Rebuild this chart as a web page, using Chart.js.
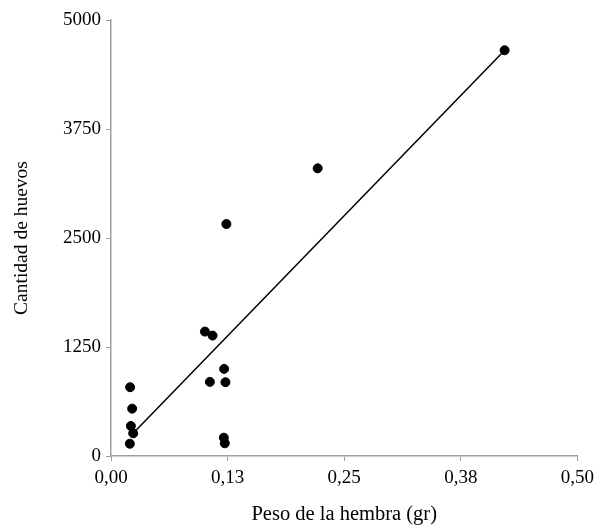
<!DOCTYPE html>
<html>
<head>
<meta charset="utf-8">
<script src="https://cdn.jsdelivr.net/npm/chart.js@4.4.1/dist/chart.umd.min.js"></script>
<style>
  html, body { margin: 0; padding: 0; background: #fff; }
  #wrap { width: 600px; height: 525px; }
</style>
</head>
<body>
<div id="wrap"><canvas id="grafico" width="600" height="525"></canvas></div>
<script>
// peso de la hembra (gr) y cantidad de huevos
var pesoHembra = [0.0205, 0.0227, 0.0213, 0.0238, 0.0202, 0.1007, 0.1089, 0.106, 0.1213, 0.1227, 0.121, 0.122, 0.1237, 0.2216, 0.422];
var cantHuevos = [789, 543, 344, 260, 141, 1427, 1381, 850, 999, 846, 210, 146, 2660, 3299, 4653];

// recta de ajuste (extremos)
var rectaX = [0.0248, 0.420];
var rectaY = [272, 4630];

var ticksX = [0, 0.125, 0.25, 0.375, 0.5];
var etiquetasX = ["0,00", "0,13", "0,25", "0,38", "0,50"];
var ticksY = [0, 1250, 2500, 3750, 5000];
var etiquetasY = ["0", "1250", "2500", "3750", "5000"];

var puntos = pesoHembra.map(function (p, i) { return { x: p, y: cantHuevos[i] }; });
var recta = rectaX.map(function (p, i) { return { x: p, y: rectaY[i] }; });

var familia = "'Liberation Serif', 'DejaVu Serif', serif";
var fuente = { family: familia, size: 19 };
var gris = "#a0a0a0";

var ctx = document.getElementById("grafico").getContext("2d");
var miGrafico = new Chart(ctx, {
  type: "scatter",
  data: {
    datasets: [
      {
        label: "Ajuste",
        data: recta,
        showLine: true,
        borderColor: "#000",
        borderWidth: 1.5,
        pointRadius: 0,
        fill: false
      },
      {
        label: "Hembras",
        data: puntos,
        backgroundColor: "#000",
        borderColor: "#000",
        pointRadius: 4.5,
        pointHoverRadius: 4.5
      }
    ]
  },
  options: {
    responsive: false,
    animation: false,
    layout: { padding: { left: 0, right: 19, top: 20, bottom: 0 } },
    plugins: { legend: { display: false }, tooltip: { enabled: false } },
    scales: {
      x: {
        type: "linear",
        min: 0,
        max: 0.5,
        afterFit: function (escala) { escala.height = 69; },
        afterBuildTicks: function (escala) {
          escala.ticks = ticksX.map(function (v) { return { value: v }; });
        },
        ticks: {
          color: "#000",
          font: fuente,
          padding: 6,
          maxRotation: 0,
          callback: function (valor) {
            var i = ticksX.indexOf(valor);
            return i >= 0 ? etiquetasX[i] : "";
          }
        },
        grid: { drawOnChartArea: false, tickLength: 5, color: gris, tickColor: gris },
        border: { color: gris, width: 1.5 },
        title: {
          display: true,
          text: "Peso de la hembra (gr)",
          color: "#000",
          font: { family: familia, size: 20.5, lineHeight: 1 },
          padding: { top: 0, bottom: 0 }
        }
      },
      y: {
        type: "linear",
        min: 0,
        max: 5000,
        afterFit: function (escala) { escala.width = 111; },
        afterBuildTicks: function (escala) {
          escala.ticks = ticksY.map(function (v) { return { value: v }; });
        },
        ticks: {
          color: "#000",
          font: fuente,
          padding: 5,
          callback: function (valor) {
            var i = ticksY.indexOf(valor);
            return i >= 0 ? etiquetasY[i] : "";
          }
        },
        grid: { drawOnChartArea: false, tickLength: 5, color: gris, tickColor: gris },
        border: { color: gris, width: 1.5 },
        title: {
          display: true,
          text: "Cantidad de huevos",
          color: "#000",
          font: { family: familia, size: 19.5 },
          padding: { top: 10, bottom: 0 }
        }
      }
    }
  }
});
</script>
</body>
</html>
